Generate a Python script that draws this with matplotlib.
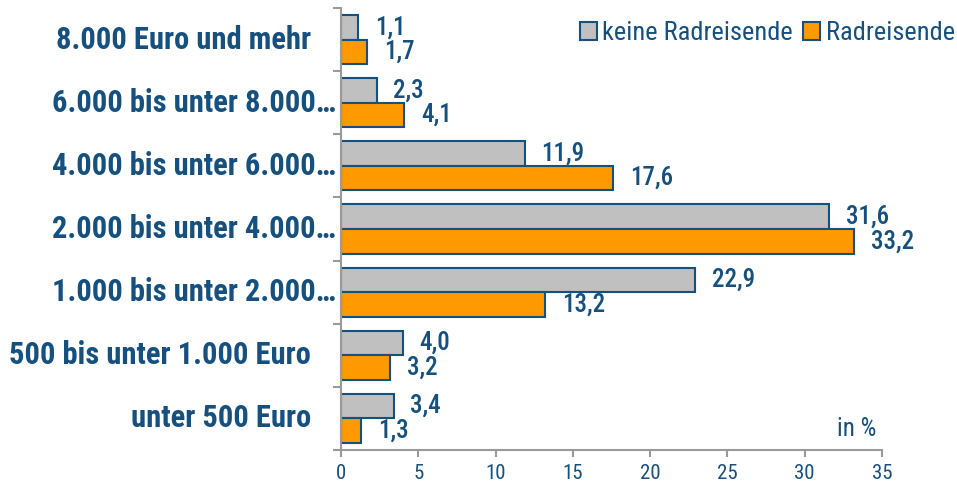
import numpy as np
import matplotlib
matplotlib.use("Agg")
import matplotlib.pyplot as plt
from matplotlib.patches import Patch

plt.rcParams['font.family'] = ['Roboto Condensed', 'Archivo Narrow', 'DejaVu Sans']

categories = [
    "unter 500 Euro",
    "500 bis unter 1.000 Euro",
    "1.000 bis unter 2.000…",
    "2.000 bis unter 4.000…",
    "4.000 bis unter 6.000…",
    "6.000 bis unter 8.000…",
    "8.000 Euro und mehr",
]
keine = [3.4, 4.0, 22.9, 31.6, 11.9, 2.3, 1.1]
rad = [1.3, 3.2, 13.2, 33.2, 17.6, 4.1, 1.7]

BLUE = "#16507f"
GRAY = "#c0c0c0"
ORANGE = "#ff9900"
SPINE = "#9a9a9a"

fig = plt.figure(figsize=(9.57, 4.86), dpi=100)
ax = fig.add_axes([0.3563, 0.0741, 0.5653, 0.9094])

y = np.arange(len(categories))
h = 0.39
ax.barh(y + h / 2, keine, height=h, color=GRAY, edgecolor=BLUE, linewidth=1.5)
ax.barh(y - h / 2, rad, height=h, color=ORANGE, edgecolor=BLUE, linewidth=1.5)

def fmt(v):
    return f"{v:.1f}".replace(".", ",")

for yi, v in zip(y, keine):
    ax.annotate(fmt(v), (v, yi + h / 2), xytext=(12, 0), textcoords="offset points",
                va="center", ha="left", fontsize=18, color=BLUE, fontweight="medium")
for yi, v in zip(y, rad):
    ax.annotate(fmt(v), (v, yi - h / 2), xytext=(12, 0), textcoords="offset points",
                va="center", ha="left", fontsize=18, color=BLUE, fontweight="medium")

ax.set_xlim(0, 35)
ax.set_ylim(-0.5, len(categories) - 0.5)
ax.set_xticks(np.arange(0, 36, 5))
ax.tick_params(axis="x", colors=SPINE, labelcolor=BLUE, labelsize=15, length=5, width=1.5, pad=5)

# category ticks sit on the band borders, labels in the band centres
ax.set_yticks(np.arange(-0.5, len(categories), 1.0))
ax.set_yticklabels([])
ax.tick_params(axis="y", colors=SPINE, length=6, width=1.5)
for yi, lab in zip(y, categories):
    dx = -3.6 if lab.endswith("…") else -21.6
    ax.annotate(lab, (0, yi), xycoords=ax.get_yaxis_transform(), xytext=(dx, 0),
                textcoords="offset points", ha="right", va="center",
                fontsize=22, color=BLUE, fontweight="bold")

for s in ["top", "right"]:
    ax.spines[s].set_visible(False)
for s in ["left", "bottom"]:
    ax.spines[s].set_color(SPINE)
    ax.spines[s].set_linewidth(1.5)

ax.text(0.99, 0.02, "in %", transform=ax.transAxes, ha="right", va="bottom",
        fontsize=18, color=BLUE)

handles = [Patch(facecolor=GRAY, edgecolor=BLUE, linewidth=1.5, label="keine Radreisende"),
           Patch(facecolor=ORANGE, edgecolor=BLUE, linewidth=1.5, label="Radreisende")]
leg = ax.legend(handles=handles, loc="upper right", bbox_to_anchor=(1.159, 1.0), ncol=2,
                frameon=False, fontsize=19, handlelength=0.65, handleheight=0.65,
                handletextpad=0.2, columnspacing=0.4, borderaxespad=0.3, borderpad=0.2)
for t in leg.get_texts():
    t.set_color(BLUE)

fig.savefig("out.png", dpi=100)
